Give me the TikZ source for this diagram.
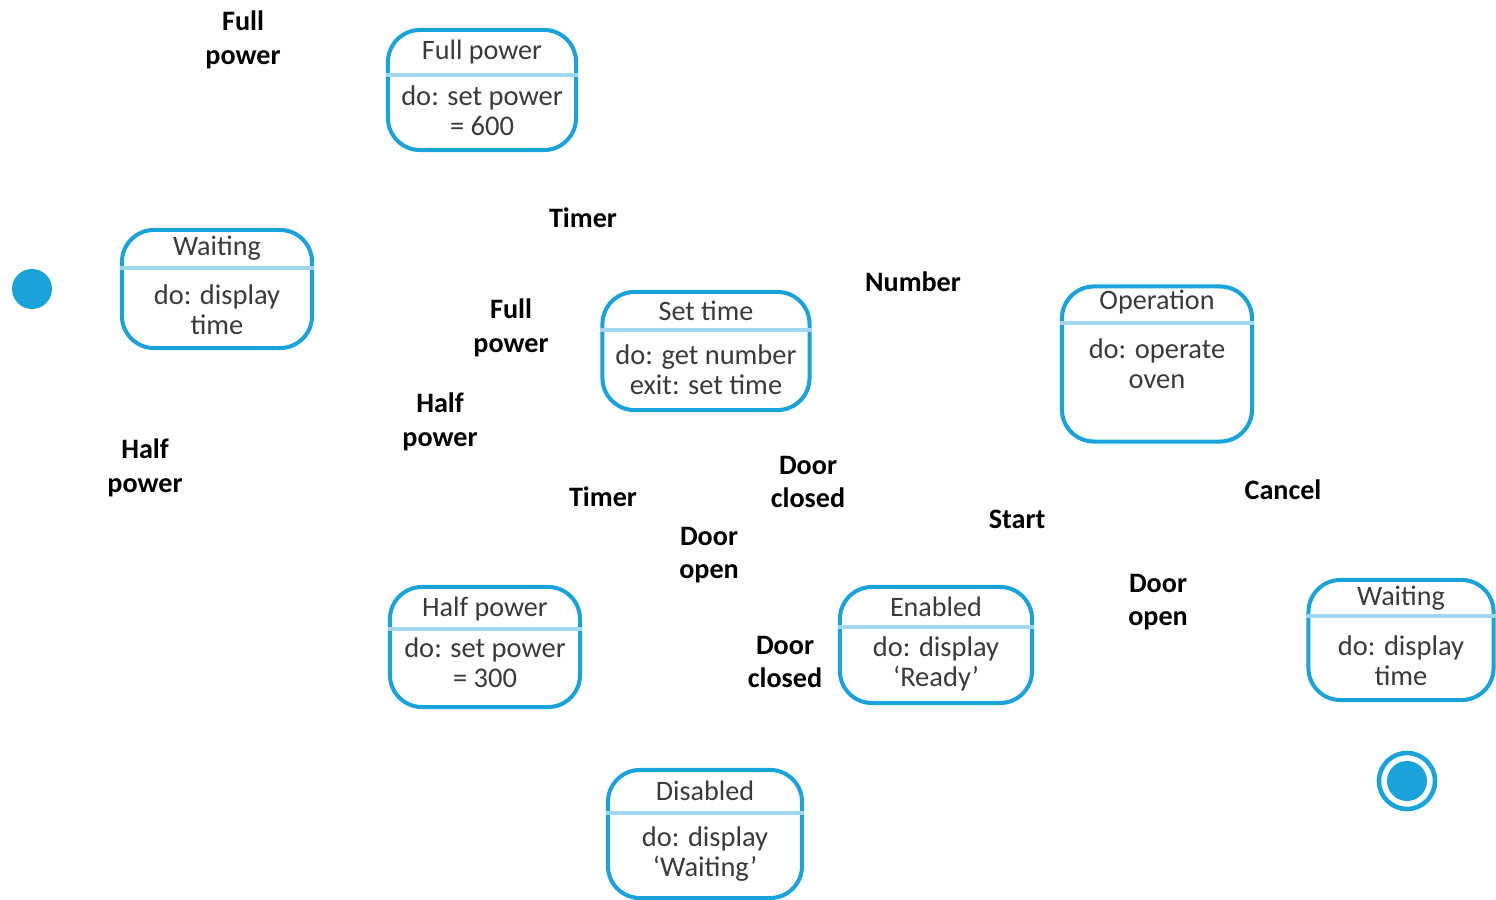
\documentclass[tikz,border=0pt]{standalone}
\usepackage{fontspec}
\setmainfont{Carlito}
\usetikzlibrary{positioning}
\definecolor{umlblue}{HTML}{1AA3DA}
\definecolor{umlline}{HTML}{9ED8F1}
\definecolor{umltext}{HTML}{3A3A3A}

\begin{document}
\begin{tikzpicture}[x=0.01cm,y=-0.01cm,
  state/.style={draw=umlblue,line width=1.15pt,rounded corners=0.32cm,inner sep=0pt},
  divider/.style={umlline,line width=0.9pt},
  head/.style={text=umltext,inner sep=0pt,font=\fontsize{8}{9}\selectfont},
  body/.style={text=umltext,inner sep=0pt,align=center,font=\fontsize{8.1}{8.6}\selectfont},
  event/.style={inner sep=0pt,align=center,font=\bfseries\fontsize{8}{9.6}\selectfont}]
\useasboundingbox (0,0) rectangle (1496,900);

% states
\node[state,minimum width=1.88cm,minimum height=1.20cm] (fullpower) at (482,90) {};
\draw[divider] (fullpower.west |- 0,75) -- (fullpower.east |- 0,75);
\node[head] (fullpowerT) at (482,52) {Full power};
\node[body] (fullpowerB) at (482,111) {do: set power\\= 600};

\node[state,minimum width=1.90cm,minimum height=1.18cm] (waitleft) at (217,289) {};
\draw[divider] (waitleft.west |- 0,268) -- (waitleft.east |- 0,268);
\node[head] (waitleftT) at (217,248) {Waiting};
\node[body] (waitleftB) at (217,310) {do: display\\time};

\node[state,minimum width=2.07cm,minimum height=1.18cm] (settime) at (706,351) {};
\draw[divider] (settime.west |- 0,330) -- (settime.east |- 0,330);
\node[head] (settimeT) at (706,311) {Set time};
\node[body] (settimeB) at (706,370) {do: get number\\exit: set time};

\node[state,minimum width=1.90cm,minimum height=1.55cm] (operation) at (1157,364) {};
\draw[divider] (operation.west |- 0,323) -- (operation.east |- 0,323);
\node[head] (operationT) at (1157,302) {Operation};
\node[body] (operationB) at (1157,364) {do: operate\\oven};

\node[state,minimum width=1.90cm,minimum height=1.20cm] (halfpower) at (485,647) {};
\draw[divider] (halfpower.west |- 0,629) -- (halfpower.east |- 0,629);
\node[head] (halfpowerT) at (485,609) {Half power};
\node[body] (halfpowerB) at (485,663) {do: set power\\= 300};

\node[state,minimum width=1.92cm,minimum height=1.16cm] (enabled) at (936,645) {};
\draw[divider] (enabled.west |- 0,627) -- (enabled.east |- 0,627);
\node[head] (enabledT) at (936,607) {Enabled};
\node[body] (enabledB) at (936,664) {do: display\\`Ready'};

\node[state,minimum width=1.85cm,minimum height=1.20cm] (waitright) at (1401,640) {};
\draw[divider] (waitright.west |- 0,616) -- (waitright.east |- 0,616);
\node[head] (waitrightT) at (1401,598) {Waiting};
\node[body] (waitrightB) at (1401,661) {do: display\\time};

\node[state,minimum width=1.94cm,minimum height=1.28cm] (disabled) at (705,834) {};
\draw[divider] (disabled.west |- 0,813) -- (disabled.east |- 0,813);
\node[head] (disabledT) at (705,791) {Disabled};
\node[body] (disabledB) at (705,854) {do: display\\`Waiting'};

% start and end
\node[circle,fill=umlblue,minimum size=0.40cm,inner sep=0pt] (init) at (32,289) {};
\node[circle,draw=umlblue,line width=1.3pt,minimum size=0.56cm,inner sep=0pt] (final) at (1407,781) {};
\node[circle,fill=umlblue,minimum size=0.40cm,inner sep=0pt] (finaldot) at (final) {};

% events
\node[event] (evfull1) at (243,40) {Full\\power};
\node[event] (evtimer1) at (583,218) {Timer};
\node[event] (evnumber) at (913,282) {Number};
\node[event] (evfull2) at (511,328) {Full\\power};
\node[event] (evhalf1) at (440,422) {Half\\power};
\node[event] (evhalf2) at (145,468) {Half\\power};
\node[event] (evtimer2) at (603,497) {Timer};
\node[event] (evclosed1) at (808,482) {Door\\closed};
\node[event] (evopen1) at (709,555) {Door\\open};
\node[event] (evstart) at (1017,519) {Start};
\node[event] (evcancel) at (1283,490) {Cancel};
\node[event] (evopen2) at (1158,602) {Door\\open};
\node[event] (evclosed2) at (785,662) {Door\\closed};
\end{tikzpicture}
\end{document}
